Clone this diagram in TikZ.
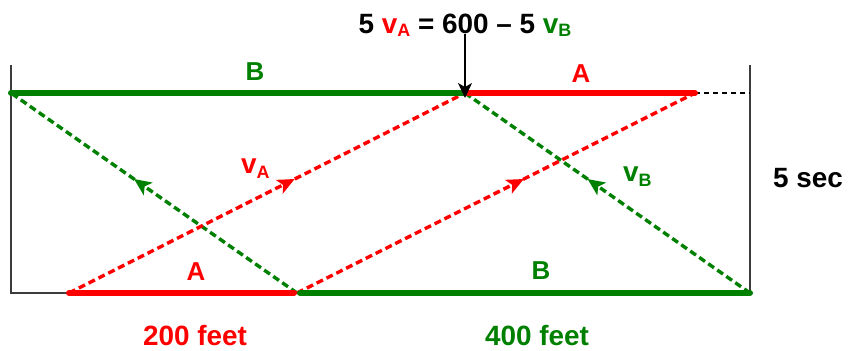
\documentclass[tikz,border=0pt]{standalone}
\usepackage{fontspec}
\setmainfont{Liberation Sans}
\usetikzlibrary{arrows.meta,decorations.markings,calc}
\definecolor{cred}{RGB}{255,0,0}
\definecolor{cgreen}{RGB}{0,128,0}
\definecolor{cframe}{RGB}{60,60,60}
\newcommand{\lblsub}[1]{\raisebox{-5bp}{\fontsize{18}{20}\selectfont #1}}
\newcommand{\eqsub}[1]{\raisebox{-3bp}{\fontsize{18}{20}\selectfont #1}}
\begin{document}
\begin{tikzpicture}[x=1bp,y=-1bp,
  thickline/.style={line width=6bp, line cap=round},
  dashline/.style={line width=3.4bp, dash pattern=on 7bp off 4bp},
  frameline/.style={line width=1.3bp, draw=cframe},
  midarrow/.style={postaction={decorate}, decoration={markings,
     mark=at position 0.57 with {\arrow{Stealth[length=17bp,width=15bp,inset=4bp]}}}},
  lbl/.style={font=\fontsize{28}{32}\selectfont\bfseries, inner sep=0},
  big/.style={font=\fontsize{26}{30}\selectfont\bfseries, inner sep=0},
]
\useasboundingbox (0,0) rectangle (848,350);

% key points
\coordinate (TL) at (11,93);
\coordinate (M) at (465,93);
\coordinate (TR) at (695,93);
\coordinate (TE) at (750,93);
\coordinate (BL) at (69,293);
\coordinate (BM) at (297,293);
\coordinate (BR) at (750,293);
\coordinate (LT) at (11,65);
\coordinate (LB) at (11,293);
\coordinate (RT) at (750,65);

% frame lines
\draw[frameline] (LT) -- (LB) -- (BL);
\draw[frameline] (RT) -- (BR);
\draw[line width=1.3bp, black, dash pattern=on 5bp off 4bp] (TR) -- (TE);

% dashed paths
\draw[dashline, cgreen, midarrow] (BM) -- (TL);
\draw[dashline, cgreen, midarrow] (BR) -- (M);
\draw[dashline, cred, midarrow] (BL) -- (M);
\draw[dashline, cred, midarrow] (BM) -- (TR);

% thick lines
\draw[thickline, cgreen] (TL) -- (M);
\draw[thickline, cred, shorten <=3bp] (M) -- (TR);
\draw[thickline, cred, shorten >=3bp] (BL) -- (BM);
\draw[thickline, cgreen, shorten <=3bp] (BM) -- (BR);

% labels
\node[big, text=cgreen] (lB1) at (255,72) {B};
\node[big, text=cred] (lA1) at (581,74) {A};
\node[big, text=cred] (lA2) at (196,272) {A};
\node[big, text=cgreen] (lB2) at (541,271) {B};

\node[lbl, text=cred, anchor=base west] (vA) at (241,173) {v\lblsub{A}};
\node[lbl, text=cgreen, anchor=base west] (vB) at (623,181) {v\lblsub{B}};
\node[lbl, anchor=base west] (sec) at (773,187) {5 sec};
\node[lbl, text=cred, anchor=base] (f200) at (195,345) {200 feet};
\node[lbl, text=cgreen, anchor=base] (f400) at (537,345) {400 feet};

\node[font=\fontsize{28}{30}\selectfont\bfseries, inner sep=0, anchor=base] (eq) at (465,33)
  {5 {\color{cred}v\eqsub{A}} = 600 -- 5 {\color{cgreen}v\eqsub{B}}};
\draw[line width=1.3bp, -{Stealth[length=15bp,width=14bp,inset=4bp]}]
  ([yshift=2bp]eq.south -| M) -- ([yshift=-5bp]M);
\end{tikzpicture}
\end{document}
